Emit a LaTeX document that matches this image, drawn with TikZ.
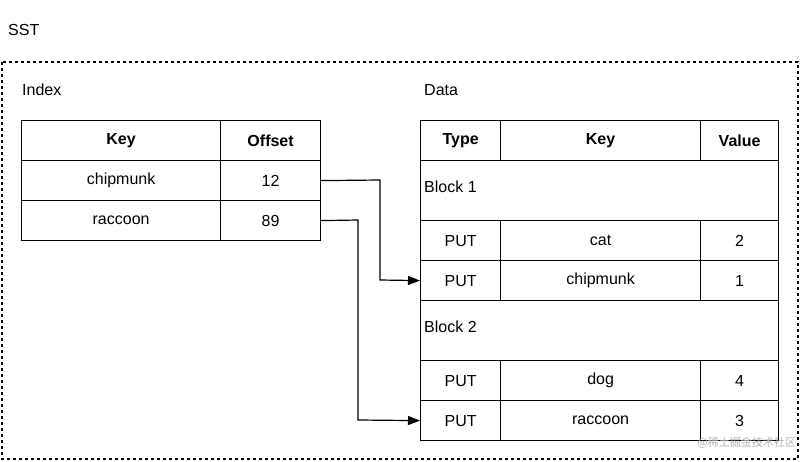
\documentclass[tikz,border=0pt]{standalone}
\usepackage{fontspec}
\setmainfont{Liberation Sans}
\newfontfamily\cjk{Noto Sans CJK SC}
\usetikzlibrary{arrows.meta}
\begin{document}
\begin{tikzpicture}[x=1pt,y=-1pt,
  cell/.style={draw,line width=1.2pt,minimum height=40pt,inner sep=0pt,anchor=north west,font=\fontsize{16}{18}\selectfont},
  hd/.style={cell,font=\fontsize{16}{18}\selectfont\bfseries},
  lbl/.style={anchor=west,inner sep=0pt,font=\fontsize{16}{18}\selectfont},
  conn/.style={line width=1.2pt,-{Triangle[length=12pt,width=9pt]}}]
\useasboundingbox (0,0) rectangle (800,461);
\node[lbl] (sst) at (8,30) {SST};
\draw[dashed,line width=1.2pt] (2,62) rectangle (798,459);
\node[lbl] (idx) at (22,90) {Index};
\node[lbl] (dat) at (424,90) {Data};
% index
\node[hd,minimum width=199pt] (ik) at (21,120) {Key};
\node[hd,minimum width=100pt] (io) at (220,120) {Offset};
\node[cell,minimum width=199pt] (c1) at (21,160) {chipmunk};
\node[cell,minimum width=100pt] (o1) at (220,160) {12};
\node[cell,minimum width=199pt] (c2) at (21,200) {raccoon};
\node[cell,minimum width=100pt] (o2) at (220,200) {89};
% data
\node[hd,minimum width=80pt] (dt) at (420,120) {Type};
\node[hd,minimum width=200pt] (dk) at (500,120) {Key};
\node[hd,minimum width=78pt] (dv) at (700,120) {Value};
\node[cell,minimum width=358pt,minimum height=60pt] (b1) at (420,160) {};
\node[lbl] (b1t) at (424,187) {Block 1};
\node[cell,minimum width=80pt] (p1) at (420,220) {PUT};
\node[cell,minimum width=200pt] (k1) at (500,220) {cat};
\node[cell,minimum width=78pt] (v1) at (700,220) {2};
\node[cell,minimum width=80pt] (p2) at (420,260) {PUT};
\node[cell,minimum width=200pt] (k2) at (500,260) {chipmunk};
\node[cell,minimum width=78pt] (v2) at (700,260) {1};
\node[cell,minimum width=358pt,minimum height=60pt] (b2) at (420,300) {};
\node[lbl] (b2t) at (424,327) {Block 2};
\node[cell,minimum width=80pt] (p3) at (420,360) {PUT};
\node[cell,minimum width=200pt] (k3) at (500,360) {dog};
\node[cell,minimum width=78pt] (v3) at (700,360) {4};
\node[cell,minimum width=80pt] (p4) at (420,400) {PUT};
\node[cell,minimum width=200pt] (k4) at (500,400) {raccoon};
\node[cell,minimum width=78pt] (v4) at (700,400) {3};
\draw[conn] (o1.east) -- (380,180) -- (380,280) -- (p2.west);
\draw[conn] (o2.east) -- (358,220) -- (358,420) -- (p4.west);
\node[anchor=east,inner sep=0pt,text=gray!60,font=\cjk\fontsize{11}{12}\selectfont] (wm) at (796,443) {@稀土掘金技术社区};
\end{tikzpicture}
\end{document}
